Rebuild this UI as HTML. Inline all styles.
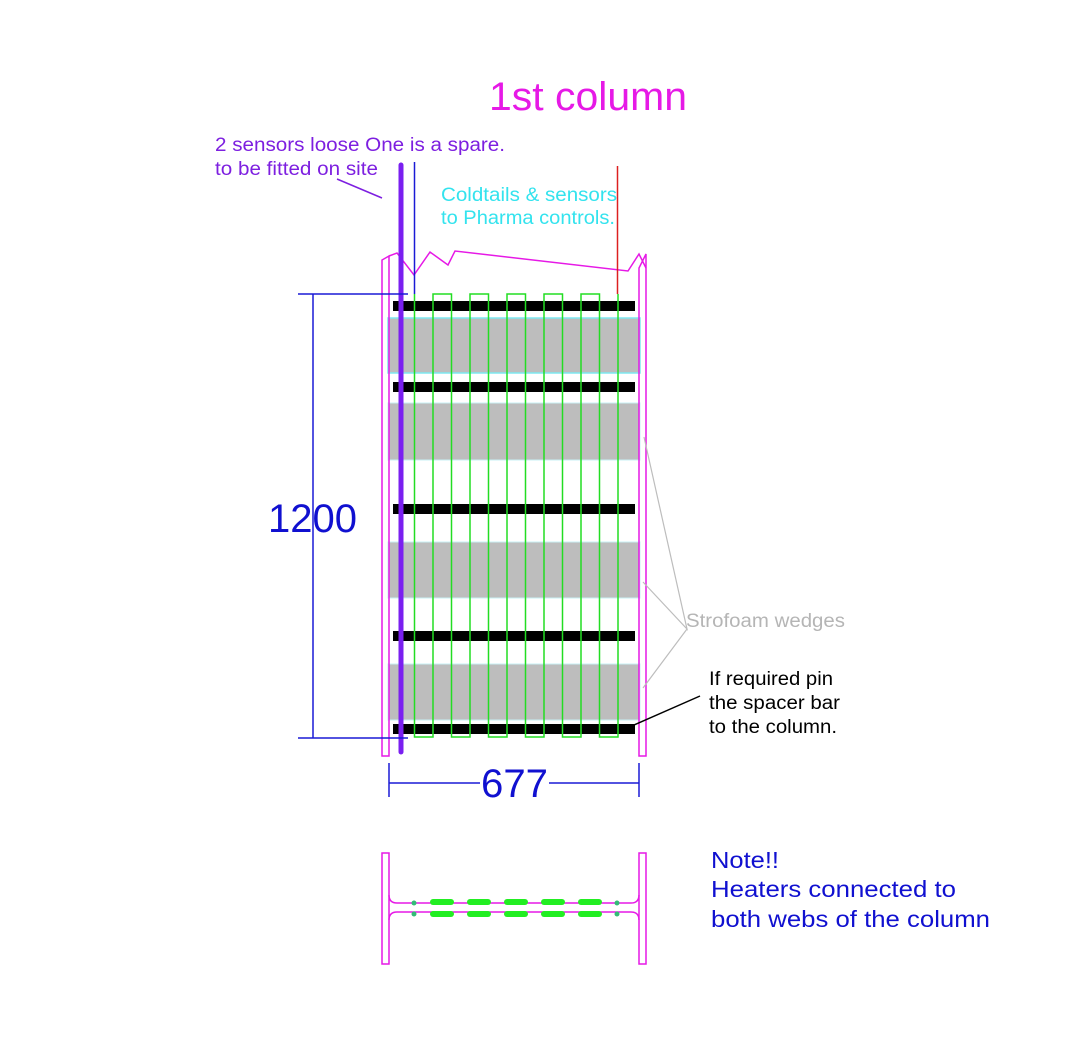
<!DOCTYPE html>
<html><head><style>body{margin:0;background:#fff}svg{display:block}text{font-family:"Liberation Sans",Arial,sans-serif}</style></head>
<body>
<svg width="1088" height="1042" viewBox="0 0 1088 1042" xmlns="http://www.w3.org/2000/svg">
<rect width="1088" height="1042" fill="#fff"/>
<text x="489" y="110" font-size="40" fill="#e619e6" textLength="198" lengthAdjust="spacingAndGlyphs">1st column</text>
<text x="215" y="151" font-size="19" fill="#7d1fe0" textLength="290" lengthAdjust="spacingAndGlyphs">2 sensors loose One is a spare.</text>
<text x="215" y="175" font-size="19" fill="#7d1fe0" textLength="163" lengthAdjust="spacingAndGlyphs">to be fitted on site</text>
<line x1="337" y1="179" x2="382" y2="198" stroke="#7d1fe0" stroke-width="1.5"/>
<text x="441" y="201" font-size="19" fill="#33e3ee" textLength="176" lengthAdjust="spacingAndGlyphs">Coldtails &amp; sensors</text>
<text x="441" y="224" font-size="19" fill="#33e3ee" textLength="174" lengthAdjust="spacingAndGlyphs">to Pharma controls.</text>
<rect x="388" y="318" width="252" height="55" fill="#bdbdbd" stroke="#7fe8f0" stroke-width="1.5"/>
<rect x="388" y="403" width="252" height="57" fill="#bdbdbd" stroke="#c8f0f4" stroke-width="1"/>
<rect x="388" y="542" width="252" height="56" fill="#bdbdbd" stroke="#c8f0f4" stroke-width="1"/>
<rect x="388" y="664" width="252" height="56" fill="#bdbdbd" stroke="#c8f0f4" stroke-width="1"/>
<g fill="#000">
<rect x="393" y="301" width="242" height="10"/>
<rect x="393" y="382" width="242" height="10"/>
<rect x="393" y="504" width="242" height="10"/>
<rect x="393" y="631" width="242" height="10"/>
<rect x="393" y="724" width="242" height="10"/>
</g>
<path d="M414.5 294 V737 H433 V294 H451.5 V737 H470 V294 H488.5 V737 H507 V294 H525.5 V737 H544 V294 H562.5 V737 H581 V294 H599.5 V737 H618 V294" fill="none" stroke="#22dd22" stroke-width="1.5"/>
<path d="M382 756 V260 L389 256 V756 Z" fill="none" stroke="#e619e6" stroke-width="1.5"/>
<path d="M639 756 V268 L646 254 V756 Z" fill="none" stroke="#e619e6" stroke-width="1.5"/>
<path d="M389 256 L397 253 L414 275 L430 252 L448 265 L455 251 L628 271 L639 254 L646 268" fill="none" stroke="#e619e6" stroke-width="1.5"/>
<line x1="414.5" y1="162" x2="414.5" y2="294" stroke="#1a1ad6" stroke-width="1.5"/>
<line x1="617.5" y1="166" x2="617.5" y2="294" stroke="#dd2020" stroke-width="1.5"/>
<line x1="401" y1="165" x2="401" y2="752" stroke="#7a1ff0" stroke-width="5" stroke-linecap="round"/>
<g stroke="#1a1ad6" stroke-width="1.5">
<line x1="298" y1="294" x2="408" y2="294"/>
<line x1="298" y1="738" x2="408" y2="738"/>
<line x1="313" y1="294" x2="313" y2="738"/>
<line x1="389" y1="763" x2="389" y2="797"/>
<line x1="639" y1="763" x2="639" y2="797"/>
<line x1="389" y1="783" x2="480" y2="783"/>
<line x1="549" y1="783" x2="639" y2="783"/>
</g>
<text x="268" y="532" font-size="40" fill="#1010d0" textLength="89" lengthAdjust="spacingAndGlyphs">1200</text>
<text x="481" y="797" font-size="40" fill="#1010d0" textLength="67" lengthAdjust="spacingAndGlyphs">677</text>
<g stroke="#bdbdbd" stroke-width="1.2" fill="none">
<path d="M644 437 L687 629 L643 582 M687 629 L643 688"/>
</g>
<text x="686" y="627" font-size="19" fill="#b5b5b5" textLength="159" lengthAdjust="spacingAndGlyphs">Strofoam wedges</text>
<line x1="700" y1="696" x2="634" y2="725" stroke="#000" stroke-width="1.5"/>
<text x="709" y="685" font-size="19" fill="#000" textLength="124" lengthAdjust="spacingAndGlyphs">If required pin</text>
<text x="709" y="709" font-size="19" fill="#000" textLength="131" lengthAdjust="spacingAndGlyphs">the spacer bar</text>
<text x="709" y="733" font-size="19" fill="#000" textLength="128" lengthAdjust="spacingAndGlyphs">to the column.</text>
<g fill="none" stroke="#e619e6" stroke-width="1.5">
<rect x="382" y="853" width="7" height="111"/>
<rect x="639" y="853" width="7" height="111"/>
<path d="M389 895 Q389 903 397 903 H631 Q639 903 639 895"/>
<path d="M389 920 Q389 912 397 912 H631 Q639 912 639 920"/>
</g>
<g fill="#22ee22">
<rect x="430" y="899" width="24" height="6" rx="3"/><rect x="467" y="899" width="24" height="6" rx="3"/><rect x="504" y="899" width="24" height="6" rx="3"/><rect x="541" y="899" width="24" height="6" rx="3"/><rect x="578" y="899" width="24" height="6" rx="3"/>
<rect x="430" y="911" width="24" height="6" rx="3"/><rect x="467" y="911" width="24" height="6" rx="3"/><rect x="504" y="911" width="24" height="6" rx="3"/><rect x="541" y="911" width="24" height="6" rx="3"/><rect x="578" y="911" width="24" height="6" rx="3"/>
</g>
<g fill="#33bb77"><circle cx="414" cy="903" r="2.5"/><circle cx="414" cy="914" r="2.5"/><circle cx="617" cy="903" r="2.5"/><circle cx="617" cy="914" r="2.5"/></g>
<text x="711" y="868" font-size="23" fill="#1010d0" textLength="68" lengthAdjust="spacingAndGlyphs">Note!!</text>
<text x="711" y="897" font-size="23" fill="#1010d0" textLength="245" lengthAdjust="spacingAndGlyphs">Heaters connected to</text>
<text x="711" y="927" font-size="23" fill="#1010d0" textLength="279" lengthAdjust="spacingAndGlyphs">both webs of the column</text>
</svg>
</body></html>
